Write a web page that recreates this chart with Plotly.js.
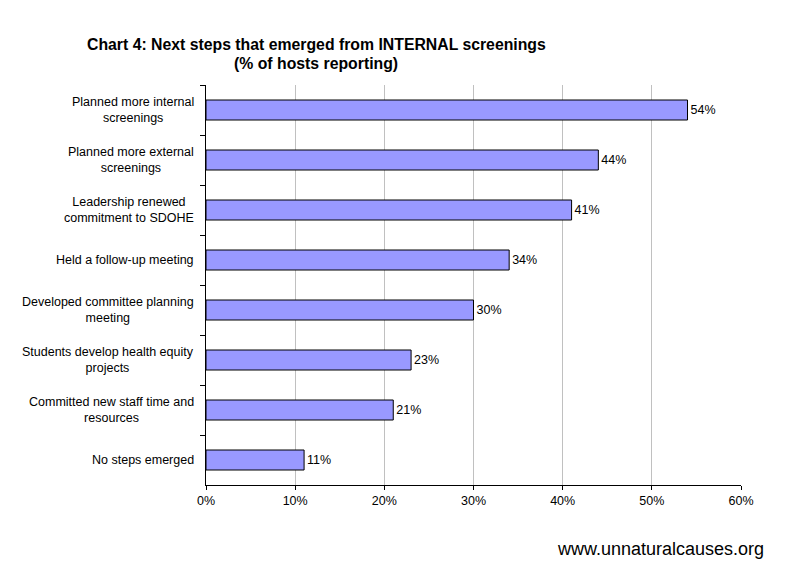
<!DOCTYPE html>
<html>
<head>
<meta charset="utf-8">
<script src="https://cdn.plot.ly/plotly-3.0.1.min.js"></script>
<style>html,body{margin:0;padding:0;background:#fff;}#chart{width:789px;height:565px;}</style>
</head>
<body>
<div id="chart"></div>
<script>
const categories = [
  "Planned more internal<br>screenings",
  "Planned more external<br>screenings",
  "Leadership renewed<br>commitment to SDOHE",
  "Held a follow-up meeting",
  "Developed committee planning<br>meeting",
  "Students develop health equity<br>projects",
  "Committed new staff time and<br>resources",
  "No steps emerged"
];
const values = [54, 44, 41, 34, 30, 23, 21, 11];
const xTickVals = [0, 10, 20, 30, 40, 50, 60];
const xTickText = ["0%", "10%", "20%", "30%", "40%", "50%", "60%"];

const FONT = "Arial, Liberation Sans, sans-serif";

const trace = {
  type: "bar",
  orientation: "h",
  y: categories,
  x: values,
  width: 0.4,
  marker: {color: "#9999FF", line: {color: "#000000", width: 1}},
  text: values.map(v => v + "%"),
  textposition: "outside",
  textfont: {family: FONT, size: 12.5, color: "#000"},
  cliponaxis: false,
  hoverinfo: "none"
};

const labelAnnotations = categories.map(c => ({
  text: c, xref: "paper", yref: "y", x: (196 - 206) / 535, y: c,
  xanchor: "right", yanchor: "middle", align: "center", showarrow: false,
  font: {family: FONT, size: 12.5, color: "#000"}
}));

const layout = {
  width: 789, height: 565,
  margin: {l: 206, r: 48, t: 85, b: 80},
  paper_bgcolor: "#fff", plot_bgcolor: "#fff",
  showlegend: false,
  font: {family: FONT, size: 12, color: "#000"},
  xaxis: {
    range: [0, 60], tickvals: xTickVals, ticktext: xTickText,
    showgrid: true, gridcolor: "#c0c0c0", gridwidth: 1,
    showline: true, linecolor: "#000", linewidth: 1,
    ticks: "outside", ticklen: 4, tickcolor: "#000",
    zeroline: false, fixedrange: true,
    tickfont: {size: 12.5}
  },
  yaxis: {
    type: "category", autorange: "reversed",
    showline: true, linecolor: "#000", linewidth: 1,
    ticks: "outside", ticklen: 5, tickcolor: "#000", tickson: "boundaries",
    showgrid: false, zeroline: false, fixedrange: true,
    showticklabels: false
  },
  annotations: labelAnnotations.concat([
    {text: "<b>Chart 4: Next steps that emerged from INTERNAL screenings</b>", xref: "paper", yref: "paper",
     x: (316 - 206) / 535, xanchor: "center", y: 1 + (85 - 45) / 400, yanchor: "middle", showarrow: false,
     font: {size: 15.8, color: "#000"}},
    {text: "<b>(% of hosts reporting)</b>", xref: "paper", yref: "paper",
     x: (316 - 206) / 535, xanchor: "center", y: 1 + (85 - 63) / 400, yanchor: "middle", showarrow: false,
     font: {size: 15.8, color: "#000"}},
    {text: "www.unnaturalcauses.org", xref: "paper", yref: "paper",
     x: (766 - 206) / 535, xanchor: "right", y: -(549 - 485) / 400, yanchor: "middle", showarrow: false,
     font: {size: 18, color: "#000"}}
  ])
};

Plotly.newPlot("chart", [trace], layout, {displayModeBar: false, staticPlot: true});
</script>
</body>
</html>
